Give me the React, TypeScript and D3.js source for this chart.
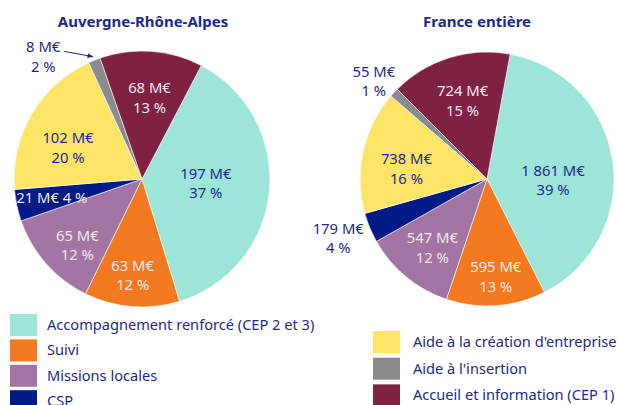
import React, { useEffect, useRef } from 'react';
import * as d3 from 'd3';

// Categories, in the clockwise order of the slices
const categories = [
  'Accompagnement renforcé (CEP 2 et 3)',
  'Suivi',
  'Missions locales',
  'CSP',
  "Aide à la création d'entreprise",
  "Aide à l'insertion",
  'Accueil et information (CEP 1)',
];
const colors = ['#9ee5d9', '#f47a22', '#a275a4', '#001a88', '#ffe566', '#8a8b8d', '#7f2143'];
// label colour: true = light text on dark slice
const lightText = [false, true, true, true, false, false, true];

const araValues = [197, 63, 65, 21, 102, 8, 68];
const araPercents = ['37 %', '12 %', '12 %', '4 %', '20 %', '2 %', '13 %'];
const franceValues = [1861, 595, 547, 179, 738, 55, 724];
const francePercents = ['39 %', '13 %', '12 %', '4 %', '16 %', '1 %', '15 %'];

const NAVY = '#1b2a8c';
const FONT = '"Noto Sans", "Open Sans", sans-serif';

// layout of the labels: radius factor, angle nudge (deg), single-line, outside
interface LabelLayout { k: number; dA: number; inline?: boolean; outside?: boolean; arrow?: boolean }

const araLayout: LabelLayout[] = [
  { k: 0.5, dA: -2 },
  { k: 0.75, dA: 1 },
  { k: 0.72, dA: -4 },
  { k: 0.72, dA: 0, inline: true },
  { k: 0.63, dA: -7 },
  { k: 1.23, dA: -17, outside: true, arrow: true },
  { k: 0.64, dA: 1 },
];
const franceLayout: LabelLayout[] = [
  { k: 0.52, dA: 9 },
  { k: 0.77, dA: -1 },
  { k: 0.69, dA: -1 },
  { k: 1.26, dA: 1, outside: true },
  { k: 0.64, dA: -5 },
  { k: 1.18, dA: -2, outside: true },
  { k: 0.65, dA: 0 },
];

const fmt = (v: number) => d3.format(',')(v).replace(/,/g, ' ') + ' M€';

const App: React.FC = () => {
  const svgRef = useRef<SVGSVGElement>(null);

  useEffect(() => {
    if (!svgRef.current) return;
    const svg = d3.select(svgRef.current);
    svg.selectAll('*').remove();

    svg.append('defs').append('marker')
      .attr('id', 'arrowhead')
      .attr('viewBox', '0 0 10 10')
      .attr('refX', 9).attr('refY', 5)
      .attr('markerWidth', 6).attr('markerHeight', 6)
      .attr('orient', 'auto')
      .append('path')
      .attr('d', 'M0,1 L10,5 L0,9 z')
      .attr('fill', NAVY);

    const drawPie = (
      values: number[], percents: string[], layout: LabelLayout[],
      cx: number, cy: number, r: number, offsetDeg: number,
      title: string, titleX: number,
    ) => {
      const g = svg.append('g').attr('transform', `translate(${cx},${cy})`);
      const off = (offsetDeg * Math.PI) / 180;
      const pie = d3.pie<number>().sort(null).value(d => d)
        .startAngle(off).endAngle(off + 2 * Math.PI);
      const arcs = pie(values);
      const arc = d3.arc<d3.PieArcDatum<number>>().innerRadius(0).outerRadius(r);

      g.selectAll('path.slice')
        .data(arcs)
        .join('path')
        .attr('class', 'slice')
        .attr('d', arc)
        .attr('fill', (_, i) => colors[i])
        .attr('stroke', '#ffffff')
        .attr('stroke-width', 0.6);

      arcs.forEach((a, i) => {
        const L = layout[i];
        const ang = (a.startAngle + a.endAngle) / 2 + (L.dA * Math.PI) / 180;
        const x = Math.sin(ang) * r * L.k;
        const y = -Math.cos(ang) * r * L.k;
        const fill = !L.outside && lightText[i] ? '#f3e6ec' : NAVY;
        const t = g.append('text')
          .attr('x', x)
          .attr('text-anchor', 'middle')
          .attr('font-family', FONT)
          .attr('font-size', 14.8)
          .attr('fill', fill);
        if (L.inline) {
          t.attr('y', y + 5).text(`${fmt(values[i])} ${percents[i]}`);
        } else {
          t.append('tspan').attr('x', x).attr('y', y - 4).text(fmt(values[i]));
          t.append('tspan').attr('x', x).attr('y', y + 15.5).text(percents[i]);
        }
        if (L.arrow) {
          const mid = (a.startAngle + a.endAngle) / 2;
          g.append('line')
            .attr('x1', x + 21).attr('y1', y - 5)
            .attr('x2', Math.sin(mid) * r * 1.03)
            .attr('y2', -Math.cos(mid) * r * 1.03)
            .attr('stroke', NAVY)
            .attr('stroke-width', 1)
            .attr('marker-end', 'url(#arrowhead)');
        }
      });

      svg.append('text')
        .attr('x', titleX)
        .attr('y', 27)
        .attr('text-anchor', 'middle')
        .attr('font-family', FONT)
        .attr('font-weight', 700)
        .attr('font-size', 15)
        .attr('fill', NAVY)
        .text(title);
    };

    drawPie(araValues, araPercents, araLayout, 142, 179, 128, 27.6, 'Auvergne-Rhône-Alpes', 143);
    drawPie(franceValues, francePercents, franceLayout, 487, 179, 127, 10.5, 'France entière', 477);

    // legends
    const legendLeft = [0, 1, 2, 3];
    const legendRight = [4, 5, 6];
    const leg = (idx: number[], x: number, y0: number, step: number, textDx: number) => {
      const items = svg.append('g').selectAll('g')
        .data(idx)
        .join('g')
        .attr('transform', (_, j) => `translate(${x},${y0 + j * step})`);
      items.append('rect')
        .attr('width', 27).attr('height', 22)
        .attr('fill', d => colors[d]);
      items.append('text')
        .attr('x', textDx).attr('y', 16)
        .attr('font-family', FONT)
        .attr('font-size', 14.6)
        .attr('fill', NAVY)
        .text(d => categories[d]);
    };
    leg(legendLeft, 10, 314, 25.4, 37);
    leg(legendRight, 373, 331, 26.7, 40);
  }, []);

  return (
    <svg
      ref={svgRef}
      width={617}
      height={405}
      style={{ position: 'absolute', left: 0, top: 0, background: '#ffffff' }}
    />
  );
};

export default App;
